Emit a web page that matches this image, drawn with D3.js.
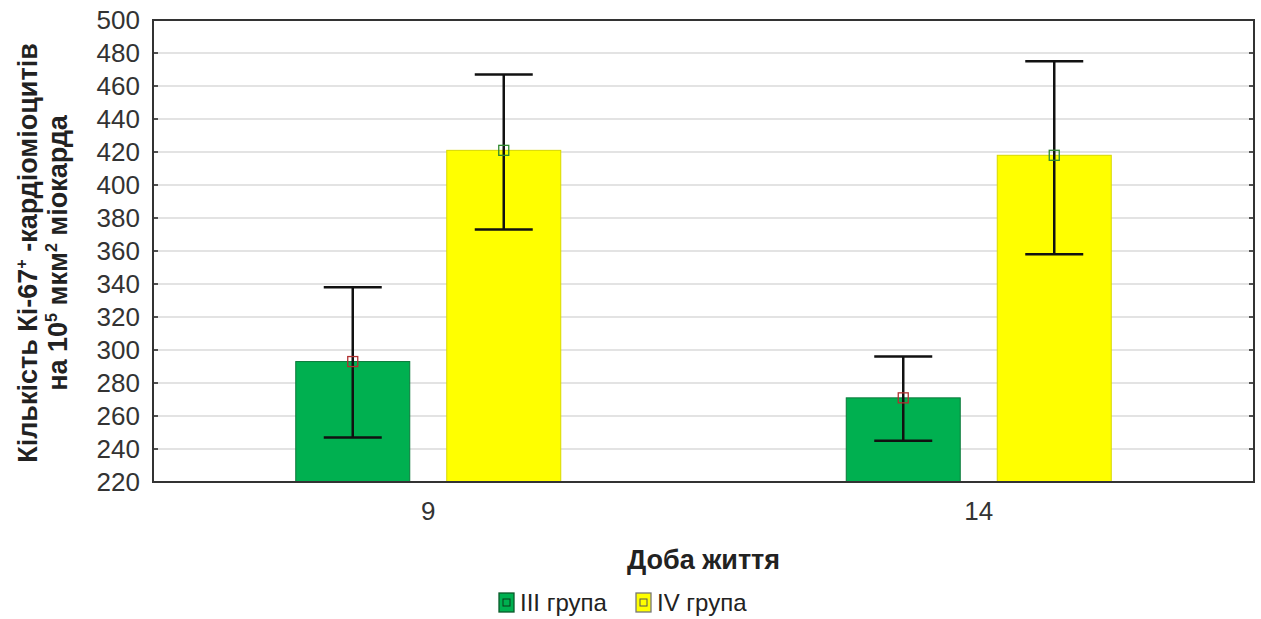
<!DOCTYPE html>
<html>
<head>
<meta charset="utf-8">
<script src="https://cdn.jsdelivr.net/npm/d3@7"></script>
<style>
  body { margin: 0; background: #fff; }
  svg { font-family: "Liberation Sans", Arial, sans-serif; }
</style>
</head>
<body>
<div id="chart"></div>
<script>
// Days (x categories) and groups
const days = ['9', '14'];
const groups = ['ІІІ група', 'IV група'];
const groupColors = ['#00b050', '#ffff00'];
const groupStroke = ['#0a7a3a', '#d8d800'];
const markerColors = ['#b03030', '#2f8a2f'];

// Means and error bounds (per group, per day)
const means = [[293, 271], [421, 418]];
const upper = [[338, 296], [467, 475]];
const lower = [[247, 245], [373, 358]];

const yTicks = d3.range(220, 501, 20);

const W = 1261, H = 619;
const plot = { left: 153, right: 1254, top: 20, bottom: 482 };

const svg = d3.select('#chart').append('svg')
  .attr('width', W)
  .attr('height', H);

const x = d3.scaleBand().domain(days).range([plot.left, plot.right]).padding(0);
const y = d3.scaleLinear().domain([220, 500]).range([plot.bottom, plot.top]);

// bar layout inside a category band
const barW = 114, barGap = 37;
const barX = (d, g) => x(d) + x.bandwidth() / 2 - barW - barGap / 2 + g * (barW + barGap);

/* gridlines */
svg.append('g')
  .selectAll('line')
  .data(yTicks.slice(1, -1))
  .enter().append('line')
  .attr('x1', plot.left).attr('x2', plot.right)
  .attr('y1', d => y(d)).attr('y2', d => y(d))
  .attr('stroke', '#dadada')
  .attr('stroke-width', 1.5);

/* y axis labels */
const yAxis = d3.axisLeft(y).tickValues(yTicks).tickSize(0).tickPadding(13);
const ya = svg.append('g')
  .attr('transform', `translate(${plot.left},0)`)
  .call(yAxis);
ya.select('.domain').remove();
ya.selectAll('text')
  .attr('font-size', 26)
  .attr('fill', '#333')
  .attr('font-family', '"Liberation Sans", Arial, sans-serif');

// inner tick marks on both sides
[plot.left, plot.right].forEach((px, i) => {
  svg.append('g').selectAll('line')
    .data(yTicks.slice(1, -1))
    .enter().append('line')
    .attr('x1', px).attr('x2', i === 0 ? px + 5 : px - 5)
    .attr('y1', d => y(d)).attr('y2', d => y(d))
    .attr('stroke', '#222').attr('stroke-width', 1.5);
});

/* bars */
groups.forEach((gName, g) => {
  svg.append('g').selectAll('rect')
    .data(days)
    .enter().append('rect')
    .attr('x', (d) => barX(d, g))
    .attr('y', (d, i) => y(means[g][i]))
    .attr('width', barW)
    .attr('height', (d, i) => y(220) - y(means[g][i]))
    .attr('fill', groupColors[g])
    .attr('stroke', groupStroke[g])
    .attr('stroke-width', 1);
});

/* error bars + mean markers */
const capW = 58;
groups.forEach((gName, g) => {
  const eg = svg.append('g');
  days.forEach((d, i) => {
    const cx = barX(d, g) + barW / 2;
    eg.append('line')
      .attr('x1', cx).attr('x2', cx)
      .attr('y1', y(upper[g][i])).attr('y2', y(lower[g][i]))
      .attr('stroke', '#111').attr('stroke-width', 2.5);
    [upper[g][i], lower[g][i]].forEach(v => {
      eg.append('line')
        .attr('x1', cx - capW / 2).attr('x2', cx + capW / 2)
        .attr('y1', y(v)).attr('y2', y(v))
        .attr('stroke', '#111').attr('stroke-width', 2.5);
    });
    eg.append('rect')
      .attr('x', cx - 5).attr('y', y(means[g][i]) - 5)
      .attr('width', 10).attr('height', 10)
      .attr('fill', 'none')
      .attr('stroke', markerColors[g])
      .attr('stroke-width', 1.3);
  });
});

/* frame */
svg.append('rect')
  .attr('x', plot.left).attr('y', plot.top)
  .attr('width', plot.right - plot.left)
  .attr('height', plot.bottom - plot.top)
  .attr('fill', 'none')
  .attr('stroke', '#333')
  .attr('stroke-width', 2);

/* x axis labels */
svg.append('g').selectAll('text')
  .data(days)
  .enter().append('text')
  .attr('x', d => x(d) + x.bandwidth() / 2)
  .attr('y', 520)
  .attr('text-anchor', 'middle')
  .attr('font-size', 26)
  .attr('fill', '#333')
  .text(d => d);

svg.append('text')
  .attr('x', (plot.left + plot.right) / 2)
  .attr('y', 569)
  .attr('text-anchor', 'middle')
  .attr('font-size', 27)
  .attr('font-weight', 'bold')
  .attr('fill', '#222')
  .text('Доба життя');

/* y title, two lines */
const yt = svg.append('text')
  .attr('transform', 'translate(0,253) rotate(-90)')
  .attr('text-anchor', 'middle')
  .attr('font-size', 27)
  .attr('font-weight', 'bold')
  .attr('fill', '#222');
const l1 = yt.append('tspan').attr('x', 0).attr('y', 37);
l1.append('tspan').text('Кількість Кі-67');
l1.append('tspan').attr('dy', -10).attr('font-size', 16).text('+');
l1.append('tspan').attr('dy', 10).text(' -кардіоміоцитів');
const l2 = yt.append('tspan').attr('x', 0).attr('y', 67);
l2.append('tspan').text('на 10');
l2.append('tspan').attr('dy', -10).attr('font-size', 16).text('5');
l2.append('tspan').attr('dy', 10).text(' мкм');
l2.append('tspan').attr('dy', -10).attr('font-size', 16).text('2');
l2.append('tspan').attr('dy', 10).text(' міокарда');

/* legend */
const legX = [499, 636];
groups.forEach((gName, g) => {
  const lg = svg.append('g').attr('transform', `translate(${legX[g]},593)`);
  lg.append('rect')
    .attr('width', 15).attr('height', 19)
    .attr('fill', groupColors[g])
    .attr('stroke', g === 0 ? '#0a5a2a' : '#777')
    .attr('stroke-width', 1.3);
  lg.append('rect')
    .attr('x', 4).attr('y', 6).attr('width', 7).attr('height', 7)
    .attr('fill', 'none')
    .attr('stroke', g === 0 ? '#0a3a1a' : '#555')
    .attr('stroke-width', 1);
  lg.append('text')
    .attr('x', 21).attr('y', 18)
    .attr('font-size', 24)
    .attr('fill', '#222')
    .text(gName);
});
</script>
</body>
</html>
